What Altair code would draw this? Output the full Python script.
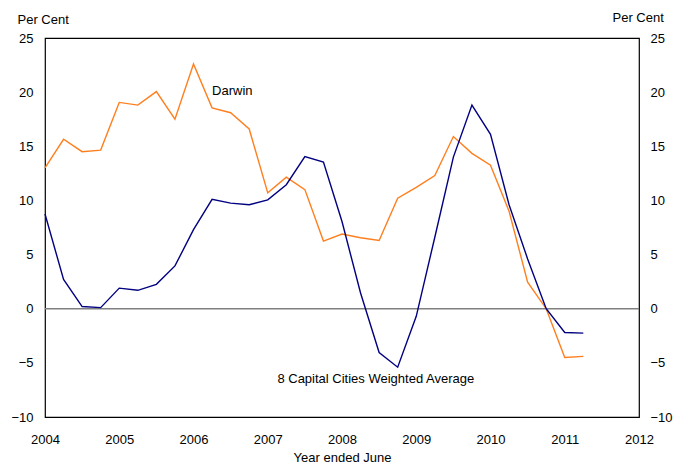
import altair as alt
import pandas as pd

darwin = [13.0, 15.65, 14.5, 14.65, 19.05, 18.8, 20.05, 17.5, 22.6, 18.55, 18.1, 16.6,
          10.7, 12.15, 11.0, 6.25, 6.9, 6.55, 6.3, 10.2, 11.2, 12.3, 15.9, 14.35,
          13.25, 9.0, 2.45, 0.0, -4.5, -4.4]
capitals = [8.75, 2.7, 0.2, 0.1, 1.9, 1.7, 2.25, 3.95, 7.3, 10.1, 9.75, 9.6,
            10.05, 11.45, 14.05, 13.55, 8.05, 1.45, -4.05, -5.4, -0.7, 6.6, 14.0, 18.8,
            16.1, 9.6, 4.6, 0.0, -2.2, -2.25]

# quarterly observations (year ended June), starting 2004
xs = [2004.0 + 0.25 * i for i in range(30)]

df = pd.DataFrame({
    "x": xs * 2,
    "value": darwin + capitals,
    "series": ["Darwin"] * len(darwin) + ["8 Capital Cities Weighted Average"] * len(capitals),
})

year_ticks = list(range(2004, 2013))
y_ticks = [-10, -5, 0, 5, 10, 15, 20, 25]

label_text = ["Darwin", "8 Capital Cities Weighted Average"]
label_x = [2006.25, 2007.13]
label_y = [20.1, -6.45]

FONT = "Liberation Sans"

xscale = alt.Scale(domain=[2004, 2012], nice=False, zero=False)
yscale = alt.Scale(domain=[-10, 25], nice=False, zero=False)

x_axis = alt.Axis(values=year_ticks, format="d", ticks=False, domain=False, grid=False,
                  labelPadding=16, labelFontSize=13, labelColor="#000", labelFont=FONT,
                  title="Year ended June", titleFontSize=13, titleFontWeight="normal",
                  titleFont=FONT, titleColor="#000", titleY=40, titleBaseline="middle",
                  labelFlush=False)

left_axis = alt.Axis(values=y_ticks, ticks=False, domain=False, grid=False,
                     labelPadding=12, labelFontSize=13, labelColor="#000", labelFont=FONT,
                     title="Per Cent", titleAngle=0, titleAlign="left", titleBaseline="middle",
                     titleX=-28, titleY=-19, titleFontSize=13, titleFontWeight="normal",
                     titleFont=FONT, titleColor="#000")

right_axis = alt.Axis(orient="right", values=y_ticks, ticks=False, domain=False, grid=False,
                      labelPadding=11, labelFontSize=13, labelColor="#000", labelFont=FONT,
                      title="Per Cent", titleAngle=0, titleAlign="left", titleBaseline="middle",
                      titleX=-27, titleY=-21, titleFontSize=13, titleFontWeight="normal",
                      titleFont=FONT, titleColor="#000")

zero = alt.Chart(pd.DataFrame({"y": [0]})).mark_rule(color="#808080", strokeWidth=1.5).encode(
    y=alt.Y("y:Q", scale=yscale, axis=left_axis)
)

lines = alt.Chart(df).mark_line(strokeWidth=1.4).encode(
    x=alt.X("x:Q", scale=xscale, axis=x_axis),
    y=alt.Y("value:Q", scale=yscale, axis=left_axis),
    color=alt.Color("series:N",
                    scale=alt.Scale(domain=["Darwin", "8 Capital Cities Weighted Average"],
                                    range=["#FF7F1E", "#000080"]),
                    legend=None),
    detail="series:N",
)

labels = pd.DataFrame({"x": label_x, "y": label_y, "text": label_text})

text = alt.Chart(labels).mark_text(align="left", baseline="middle", fontSize=13,
                                   font=FONT, color="#000").encode(
    x=alt.X("x:Q", scale=xscale, axis=x_axis),
    y=alt.Y("y:Q", scale=yscale, axis=left_axis),
    text="text:N",
)

right = alt.Chart(pd.DataFrame({"y": [0]})).mark_point(opacity=0).encode(
    y=alt.Y("y:Q", scale=yscale, axis=right_axis)
)

left_layer = alt.layer(zero, lines, text)

chart = alt.layer(left_layer, right).resolve_scale(y="independent").properties(
    width=594,
    height=379,
    autosize=alt.AutoSizeParams(type="none"),
    padding={"left": 37, "top": 30, "right": 34, "bottom": 55},
).configure_view(stroke="#000", strokeWidth=1.2)

chart.save("out.html", embed_options={"renderer": "svg", "actions": False})
